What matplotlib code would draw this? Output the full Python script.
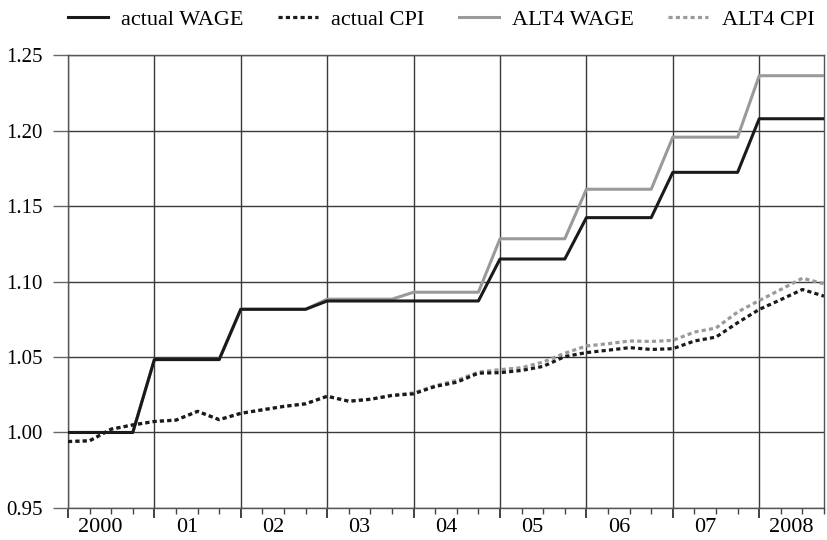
#!/usr/bin/env python3

import numpy as np
import matplotlib
matplotlib.use("Agg")
import matplotlib.pyplot as plt
from matplotlib.ticker import FixedLocator, NullFormatter

# quarterly observations, 2000Q1 .. 2008Q4
years = ["2000", "01", "02", "03", "04", "05", "06", "07", "2008"]
quarter = np.arange(36)

wage_actual = [1.000, 1.000, 1.000, 1.000,
               1.0483, 1.0483, 1.0483, 1.0483,
               1.0816, 1.0816, 1.0816, 1.0816,
               1.0871, 1.0871, 1.0871, 1.0871,
               1.0871, 1.0871, 1.0871, 1.0871,
               1.1149, 1.1149, 1.1149, 1.1149,
               1.1423, 1.1423, 1.1423, 1.1423,
               1.1723, 1.1723, 1.1723, 1.1723,
               1.2078, 1.2078, 1.2078, 1.2078]

wage_alt4 = [1.000, 1.000, 1.000, 1.000,
             1.0483, 1.0483, 1.0483, 1.0483,
             1.0816, 1.0816, 1.0816, 1.0816,
             1.0883, 1.0883, 1.0883, 1.0883,
             1.0929, 1.0929, 1.0929, 1.0929,
             1.1283, 1.1283, 1.1283, 1.1283,
             1.1611, 1.1611, 1.1611, 1.1611,
             1.1956, 1.1956, 1.1956, 1.1956,
             1.2363, 1.2363, 1.2363, 1.2363]

cpi_actual = [0.994, 0.9945, 1.0022, 1.005, 1.0073, 1.0082, 1.014, 1.0085,
              1.0127, 1.015, 1.0173, 1.019, 1.024, 1.0207, 1.022, 1.0245,
              1.0256, 1.0305, 1.0333, 1.0393, 1.0396, 1.0411, 1.0438, 1.0503,
              1.0529, 1.0545, 1.0562, 1.055, 1.0555, 1.0606, 1.0632, 1.0727,
              1.0815, 1.088, 1.0947, 1.0903]

cpi_alt4 = [0.994, 0.9945, 1.0022, 1.005, 1.0073, 1.0082, 1.014, 1.0085,
            1.0127, 1.015, 1.0173, 1.019, 1.024, 1.0207, 1.022, 1.0247,
            1.0262, 1.031, 1.0345, 1.040, 1.0416, 1.0429, 1.0467, 1.0525,
            1.0573, 1.0588, 1.0606, 1.0603, 1.061, 1.0665, 1.0692, 1.0798,
            1.0874, 1.0947, 1.1022, 1.0985]

yticks = [0.95, 1.00, 1.05, 1.10, 1.15, 1.20, 1.25]

#==============================================================================

plt.rcParams["font.family"] = ["Liberation Serif", "DejaVu Serif"]
plt.rcParams["font.size"] = 15

DOTS = (0, (1.3, 1.0))

fig = plt.figure(figsize=(8.28, 5.4), dpi=100)
ax = fig.add_axes([0.0821, 0.0593, 0.9131, 0.8388])

ax.plot(quarter, wage_actual, color="#1a1a1a", lw=2.2, label="actual WAGE", zorder=4)
ax.plot(quarter, cpi_actual, color="#1a1a1a", lw=2.3, ls=DOTS,
        label="actual CPI", zorder=4)
ax.plot(quarter, wage_alt4, color="#9a9a9a", lw=2.2, label="ALT4 WAGE", zorder=3)
ax.plot(quarter, cpi_alt4, color="#9a9a9a", lw=2.3, ls=DOTS,
        label="ALT4 CPI", zorder=3)

ax.set_xlim(0, 35)
ax.set_ylim(0.95, 1.25)

year_edges = quarter[::4]
ax.xaxis.set_major_locator(FixedLocator(year_edges))
ax.xaxis.set_minor_locator(FixedLocator(quarter))
ax.xaxis.set_major_formatter(NullFormatter())
ax.tick_params(axis="x", which="major", direction="out", length=7.5, width=1.2, color="#222")
ax.tick_params(axis="x", which="minor", direction="out", length=4.5, width=1.0, color="#444")

ax.set_yticks(yticks)
ax.set_yticklabels(["%.2f" % v for v in yticks])
ax.tick_params(axis="y", direction="out", length=11, width=1.0, color="#666", pad=7,
               labelsize=15)

ax.grid(True, which="major", color="#3a3a3a", lw=1.0)
for s in ax.spines.values():
    s.set_color("#555")
    s.set_linewidth(1.0)

# year labels centred between year boundaries
centers = [e + 2 - 0.5 for e in year_edges[:-1]] + [(year_edges[-1] + quarter[-1]) / 2]
sec = ax.secondary_xaxis("bottom")
sec.set_xticks(centers)
sec.set_xticklabels(years)
sec.tick_params(length=0, pad=7, labelsize=16)
sec.spines["bottom"].set_visible(False)

ax.legend(loc="center left", bbox_to_anchor=(0.0, 1.079, 0.987, 0.0), mode="expand",
          ncol=4, frameon=False, handlelength=1.8, handletextpad=0.6,
          borderaxespad=0.0, borderpad=0.0, fontsize=16)

fig.savefig("out.png", dpi=100)
